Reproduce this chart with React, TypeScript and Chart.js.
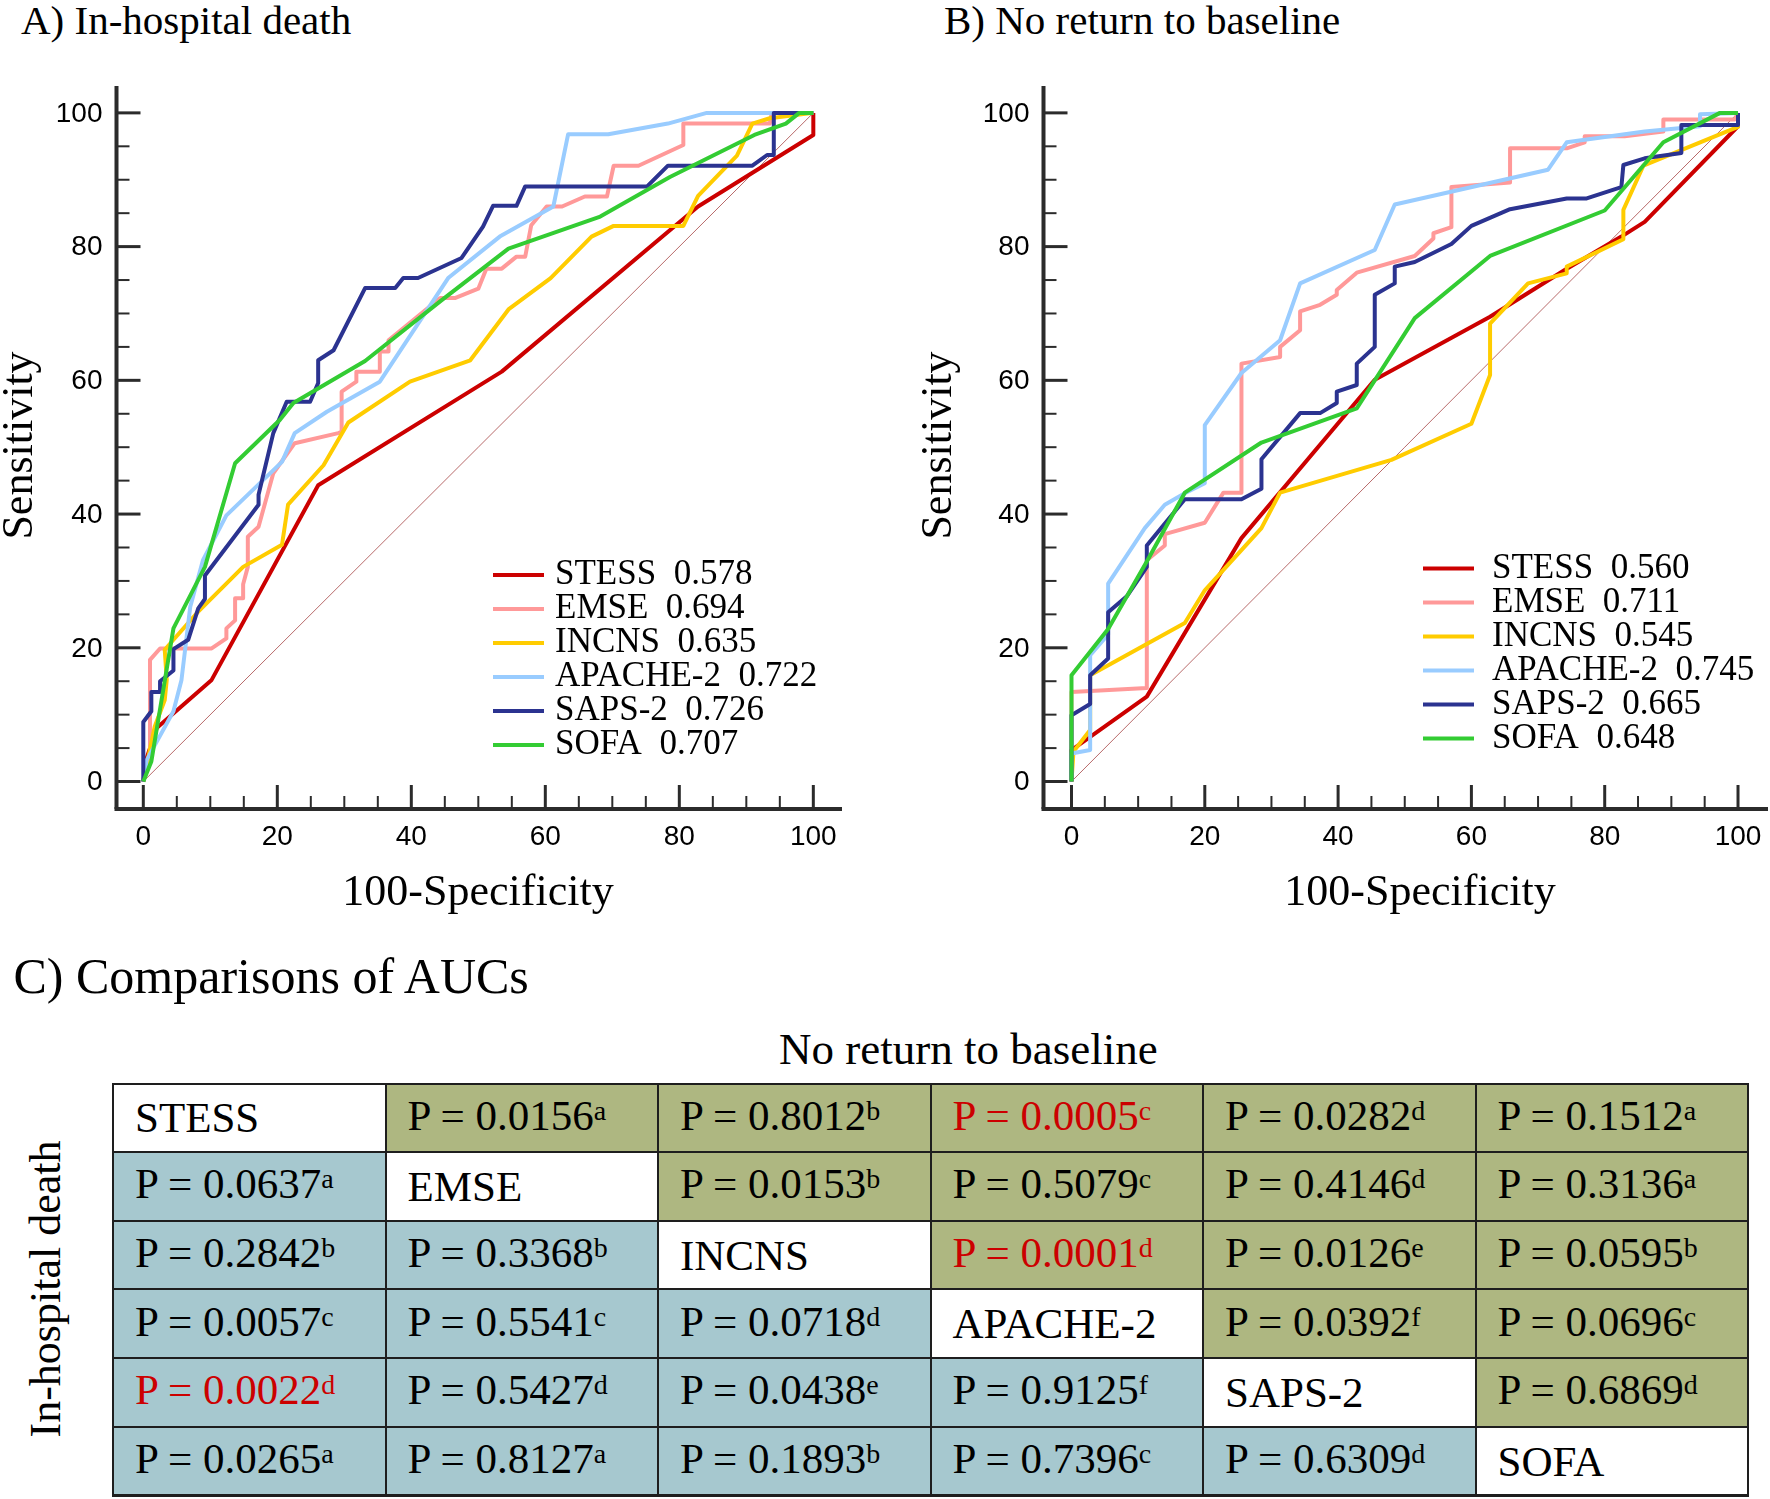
import React, { useEffect, useRef } from "react";
import { Chart, registerables } from "chart.js";

Chart.register(...registerables);

const SERIF = "'Liberation Serif', 'Times New Roman', Times, serif";
const SANS = "'Liberation Sans', Arial, Helvetica, sans-serif";

// ---------------- data ----------------
const scoreNames = ["STESS", "EMSE", "INCNS", "APACHE-2", "SAPS-2", "SOFA"];
const scoreColors = ["#CC0000", "#FF9999", "#FFCC00", "#99CCFF", "#2B3390", "#33CC33"];
const aucDeath = [0.578, 0.694, 0.635, 0.722, 0.726, 0.707];
const aucReturn = [0.56, 0.711, 0.545, 0.745, 0.665, 0.648];
const majorTicks = [0, 20, 40, 60, 80, 100];
const minorTicks = [5, 10, 15, 25, 30, 35, 45, 50, 55, 65, 70, 75, 85, 90, 95];

type Pt = [number, number];

// A) In-hospital death: [100-Specificity, Sensitivity]
const deathStess: Pt[] = [[0, 0], [0.5, 3.5], [2, 8], [10.2, 15.2], [26.1, 44.3], [53.5, 61.3], [82.8, 86.0], [100, 96.7], [100, 100]];
const deathEmse: Pt[] = [[0, 0], [1.0, 4.3], [1.0, 18.2], [2.5, 19.9], [10.2, 19.9], [12.4, 21.4], [12.4, 22.9], [13.7, 24.1], [13.7, 27.4], [14.9, 27.4], [14.9, 29.5], [15.6, 32.1], [15.6, 36.6], [17.2, 38.1], [19.4, 46.1], [22.6, 50.6], [29.1, 52.1], [29.6, 52.3], [29.6, 58.3], [31.8, 59.8], [31.8, 61.3], [35.3, 61.3], [35.3, 64.3], [36.6, 64.3], [36.6, 66.0], [44.3, 72.3], [46.5, 72.3], [50.0, 73.7], [51.2, 76.7], [53.5, 76.7], [55.7, 78.5], [57.0, 78.5], [57.9, 83.2], [60.2, 86.0], [62.5, 86.0], [65.9, 87.5], [69.2, 87.5], [70.2, 92.1], [73.9, 92.1], [80.6, 95.2], [80.6, 98.4], [93.5, 98.4], [93.8, 100], [100, 100]];
const deathIncns: Pt[] = [[0, 0], [1.7, 8.2], [3.2, 12.2], [3.5, 15.2], [3.2, 19.7], [4.5, 21.2], [8.2, 25.4], [14.9, 32.1], [20.7, 35.4], [21.6, 41.4], [26.9, 47.3], [30.6, 53.7], [39.8, 59.8], [48.8, 63.0], [54.5, 70.6], [60.8, 75.3], [66.9, 81.5], [70.2, 83.1], [80.6, 83.1], [82.8, 87.6], [88.6, 93.6], [90.9, 98.4], [93.5, 99.2], [100, 100]];
const deathApache: Pt[] = [[0, 0], [0.5, 3.2], [4.5, 10.5], [5.7, 15.2], [7.0, 26.1], [8.9, 33.1], [12.4, 39.8], [20.7, 47.8], [22.6, 52.1], [27.4, 55.3], [35.3, 59.8], [45.5, 75.3], [53.2, 81.5], [61.2, 86.0], [63.4, 96.8], [69.4, 96.8], [78.3, 98.4], [84.1, 100], [100, 100]];
const deathSaps: Pt[] = [[0, 0], [0, 8.9], [1.2, 10.5], [1.2, 13.4], [2.5, 13.4], [2.5, 15.0], [4.5, 16.6], [4.5, 19.8], [6.7, 21.2], [8.2, 25.9], [9.2, 27.3], [9.2, 30.8], [17.2, 41.4], [17.2, 42.9], [19.4, 52.1], [21.4, 56.8], [24.9, 56.8], [26.1, 59.6], [26.1, 63.0], [28.4, 64.5], [33.1, 73.8], [37.6, 73.8], [38.8, 75.3], [41.0, 75.3], [47.5, 78.3], [50.7, 83.0], [52.2, 86.1], [55.7, 86.1], [57.0, 89.0], [75.2, 89.0], [78.3, 92.1], [90.9, 92.1], [93.1, 93.7], [94.1, 93.7], [94.1, 100], [100, 100]];
const deathSofa: Pt[] = [[0, 0], [1.2, 3.0], [4.5, 22.9], [9.2, 32.1], [13.7, 47.6], [20.4, 54.1], [22.4, 56.6], [33.1, 62.9], [44.3, 71.8], [54.5, 79.7], [68.2, 84.5], [78.6, 90.4], [91.2, 96.7], [95.9, 98.4], [97.9, 100], [100, 100]];

// B) No return to baseline
const returnStess: Pt[] = [[0, 0], [0, 4.7], [11.3, 12.7], [25.5, 36.4], [45.5, 60.1], [62.8, 69.5], [74.0, 76.5], [82.5, 81.5], [86.0, 83.7], [100, 98.0], [100, 100]];
const returnEmse: Pt[] = [[0, 0], [0, 13.4], [11.3, 14.0], [11.3, 33.1], [14.0, 35.3], [14.0, 37.0], [20.0, 38.7], [22.8, 43.2], [25.5, 43.2], [25.5, 62.5], [31.3, 63.5], [31.3, 65.0], [34.3, 67.5], [34.3, 70.3], [37.3, 71.3], [39.8, 72.8], [39.8, 73.5], [42.8, 76.1], [51.5, 78.6], [54.3, 81.2], [54.3, 82.0], [57.0, 82.9], [57.0, 88.9], [65.8, 89.6], [65.8, 94.7], [74.3, 94.7], [77.0, 95.6], [77.0, 96.5], [83.0, 96.5], [88.8, 97.2], [88.8, 99.0], [99.5, 99.0], [100, 100]];
const returnIncns: Pt[] = [[0, 0], [0.3, 4.5], [2.8, 7.7], [2.8, 15.9], [17.0, 23.7], [20.0, 28.6], [28.5, 37.9], [31.3, 43.2], [48.0, 48.1], [60.0, 53.5], [62.8, 60.8], [62.8, 68.5], [68.5, 74.5], [74.3, 76.0], [74.3, 77.0], [82.8, 81.1], [82.8, 85.5], [85.8, 92.1], [100, 97.9], [100, 100]];
const returnApache: Pt[] = [[0, 0], [0, 4.2], [2.8, 4.7], [2.8, 18.9], [5.5, 22.0], [5.5, 29.6], [11.0, 37.9], [14.0, 41.4], [17.0, 43.1], [20.0, 44.6], [20.0, 53.3], [25.5, 61.1], [31.3, 66.0], [34.3, 74.5], [45.5, 79.5], [48.5, 86.3], [71.5, 91.5], [74.3, 95.6], [86.0, 97.2], [94.3, 98.0], [94.3, 99.8], [100, 100]];
const returnSaps: Pt[] = [[0, 0], [0, 9.9], [2.8, 11.6], [2.8, 15.9], [5.5, 18.4], [5.5, 25.3], [8.3, 27.7], [11.3, 32.1], [11.3, 35.3], [17.0, 42.2], [25.5, 42.2], [28.5, 43.8], [28.5, 48.2], [34.3, 55.1], [37.3, 55.1], [39.8, 56.6], [39.8, 58.3], [42.8, 59.3], [42.8, 62.5], [45.5, 65.0], [45.5, 72.8], [48.5, 74.5], [48.5, 77.0], [51.5, 77.7], [57.0, 80.4], [60.0, 83.1], [65.8, 85.6], [74.3, 87.2], [77.3, 87.2], [82.5, 88.9], [82.8, 92.2], [86.0, 93.2], [91.5, 94.0], [91.5, 98.2], [100, 98.2], [100, 100]];
const returnSofa: Pt[] = [[0, 0], [0, 15.9], [5.5, 22.8], [11.3, 32.9], [17.0, 43.2], [28.5, 50.7], [42.8, 55.8], [51.5, 69.3], [62.8, 78.6], [80.0, 85.4], [88.8, 95.6], [97.3, 100], [100, 100]];

const chanceLine: Pt[] = [[0, 0], [100, 100]];

const deathCurves = [deathStess, deathEmse, deathIncns, deathApache, deathSaps, deathSofa];
const returnCurves = [returnStess, returnEmse, returnIncns, returnApache, returnSaps, returnSofa];

// C) table: upper triangle = No return to baseline, lower triangle = In-hospital death (row-major)
const returnPValues = ["0.0156a", "0.8012b", "0.0005c", "0.0282d", "0.1512a", "0.0153b", "0.5079c", "0.4146d", "0.3136a", "0.0001d", "0.0126e", "0.0595b", "0.0392f", "0.0696c", "0.6869d"];
const deathPValues = ["0.0637a", "0.2842b", "0.3368b", "0.0057c", "0.5541c", "0.0718d", "0.0022d", "0.5427d", "0.0438e", "0.9125f", "0.0265a", "0.8127a", "0.1893b", "0.7396c", "0.6309d"];
const highlightedPValues = ["0.0005c", "0.0001d", "0.0022d"];

// ---------------- styles / layout ----------------
const OLIVE = "#AEB781";
const TEAL = "#A6C8CF";
const RED_TEXT = "#CC0000";
const AXIS = "#2b2b2b";

interface PanelLayout {
  left: number;
  padding: { left: number; top: number; right: number; bottom: number };
  xRange: [number, number];
  yRange: [number, number];
  legendLineX: number;
  legendTextX: number;
  legendY: number;
  xTitleX: number;
  yTitleX: number;
}

const layoutA: PanelLayout = {
  left: 0,
  padding: { left: 116.5, top: 86, right: 43, bottom: 121 },
  xRange: [-4.0, 104.28],
  yRange: [-4.11, 104.02],
  legendLineX: 493,
  legendTextX: 555,
  legendY: 575,
  xTitleX: 478,
  yTitleX: 32,
};

const layoutB: PanelLayout = {
  left: 885,
  padding: { left: 158.5, top: 86, right: 2, bottom: 121 },
  xRange: [-4.2, 104.5],
  yRange: [-4.11, 104.02],
  legendLineX: 538,
  legendTextX: 607,
  legendY: 568.5,
  xTitleX: 535,
  yTitleX: 66,
};

const CANVAS_W = 885;
const CANVAS_H = 930;

function RocChart({ curves, aucs, layout }: { curves: Pt[][]; aucs: number[]; layout: PanelLayout }) {
  const ref = useRef<HTMLCanvasElement | null>(null);

  useEffect(() => {
    const canvas = ref.current;
    if (!canvas) return;

    const datasets: any[] = curves.map((c, i) => ({
      label: `${scoreNames[i]}  ${aucs[i].toFixed(3)}`,
      data: c.map(([x, y]) => ({ x, y })),
      borderColor: scoreColors[i],
      backgroundColor: scoreColors[i],
      borderWidth: 4,
      borderJoinStyle: "round",
      pointRadius: 0,
      showLine: true,
      fill: false,
      tension: 0,
      order: 6 - i,
    }));
    datasets.push({
      label: "reference",
      data: chanceLine.map(([x, y]) => ({ x, y })),
      borderColor: "#B86A6A",
      borderWidth: 1,
      pointRadius: 0,
      showLine: true,
      fill: false,
      order: 20,
    });

    const axesPlugin = {
      id: "rocAxes",
      beforeDatasetsDraw(chart: any) {
        const { ctx, chartArea: a, scales } = chart;
        const xs = scales.x;
        const ys = scales.y;
        ctx.save();
        ctx.strokeStyle = AXIS;
        ctx.lineCap = "butt";
        ctx.lineWidth = 4;
        ctx.beginPath();
        ctx.moveTo(a.left - 2, a.bottom);
        ctx.lineTo(a.right, a.bottom);
        ctx.stroke();
        ctx.beginPath();
        ctx.moveTo(a.left, a.bottom);
        ctx.lineTo(a.left, a.top);
        ctx.stroke();
        const drawTick = (v: number, major: boolean) => {
          const len = major ? 24 : 13;
          ctx.lineWidth = major ? 3 : 2;
          const px = xs.getPixelForValue(v);
          ctx.beginPath();
          ctx.moveTo(px, a.bottom);
          ctx.lineTo(px, a.bottom - len);
          ctx.stroke();
          const py = ys.getPixelForValue(v);
          ctx.beginPath();
          ctx.moveTo(a.left, py);
          ctx.lineTo(a.left + len, py);
          ctx.stroke();
        };
        minorTicks.forEach((v) => drawTick(v, false));
        majorTicks.forEach((v) => drawTick(v, true));
        ctx.fillStyle = "#000";
        ctx.font = `28px ${SANS}`;
        ctx.textAlign = "center";
        ctx.textBaseline = "alphabetic";
        majorTicks.forEach((v) => ctx.fillText(String(v), xs.getPixelForValue(v), a.bottom + 36));
        ctx.textAlign = "right";
        ctx.textBaseline = "middle";
        majorTicks.forEach((v) => ctx.fillText(String(v), a.left - 14, ys.getPixelForValue(v) + 1));
        ctx.restore();
      },
      afterDraw(chart: any) {
        const { ctx, chartArea: a } = chart;
        ctx.save();
        ctx.fillStyle = "#000";
        ctx.font = `44px ${SERIF}`;
        ctx.textAlign = "center";
        ctx.textBaseline = "alphabetic";
        ctx.fillText("100-Specificity", layout.xTitleX, 905);
        ctx.save();
        ctx.translate(layout.yTitleX, (a.top + a.bottom) / 2 - 2);
        ctx.rotate(-Math.PI / 2);
        ctx.fillText("Sensitivity", 0, 0);
        ctx.restore();
        chart.data.datasets.forEach((ds: any, i: number) => {
          if (i >= curves.length) return;
          const yy = layout.legendY + i * 34;
          ctx.strokeStyle = ds.borderColor;
          ctx.lineWidth = 4;
          ctx.beginPath();
          ctx.moveTo(layout.legendLineX, yy);
          ctx.lineTo(layout.legendLineX + 51, yy);
          ctx.stroke();
          ctx.fillStyle = "#000";
          ctx.font = `35px ${SERIF}`;
          ctx.textAlign = "left";
          ctx.textBaseline = "alphabetic";
          ctx.fillText(ds.label, layout.legendTextX, yy + 9);
        });
        ctx.restore();
      },
    };

    const chart = new Chart(canvas, {
      type: "scatter",
      data: { datasets },
      options: {
        animation: false,
        responsive: false,
        maintainAspectRatio: false,
        devicePixelRatio: 1,
        events: [],
        layout: { padding: layout.padding },
        plugins: { legend: { display: false }, tooltip: { enabled: false } },
        scales: {
          x: { type: "linear", min: layout.xRange[0], max: layout.xRange[1], display: false },
          y: { type: "linear", min: layout.yRange[0], max: layout.yRange[1], display: false },
        },
      } as any,
      plugins: [axesPlugin],
    });
    return () => chart.destroy();
  }, [curves, aucs, layout]);

  return (
    <canvas
      ref={ref}
      width={CANVAS_W}
      height={CANVAS_H}
      style={{ position: "absolute", left: layout.left, top: 0, width: CANVAS_W, height: CANVAS_H, display: "block" }}
    />
  );
}

function PlainText({ x, baseline, size, children }: { x: number; baseline: number; size: number; children: React.ReactNode }) {
  return (
    <div
      style={{
        position: "absolute",
        left: x,
        top: baseline - 0.8375 * size,
        fontSize: size,
        lineHeight: `${size}px`,
        fontFamily: SERIF,
        whiteSpace: "nowrap",
        color: "#000",
      }}
    >
      {children}
    </div>
  );
}

function RotatedText({ cx, cy, size, children }: { cx: number; cy: number; size: number; children: React.ReactNode }) {
  return (
    <div
      style={{
        position: "absolute",
        left: cx - 250,
        top: cy - size / 2,
        width: 500,
        height: size,
        fontSize: size,
        lineHeight: `${size}px`,
        fontFamily: SERIF,
        textAlign: "center",
        whiteSpace: "nowrap",
        transform: "rotate(-90deg)",
        color: "#000",
      }}
    >
      {children}
    </div>
  );
}

function AucTable() {
  const cells: React.ReactNode[] = [];
  let ui = 0;
  let li = 0;
  for (let r = 0; r < scoreNames.length; r++) {
    for (let c = 0; c < scoreNames.length; c++) {
      let bg = "#fff";
      let content: React.ReactNode;
      let color = "#000";
      if (r === c) {
        content = scoreNames[r];
      } else {
        const raw = c > r ? returnPValues[ui++] : deathPValues[li++];
        bg = c > r ? OLIVE : TEAL;
        if (highlightedPValues.includes(raw)) color = RED_TEXT;
        const value = raw.slice(0, -1);
        const sup = raw.slice(-1);
        content = (
          <span>
            {`P = ${value}`}
            <span style={{ fontSize: 28, position: "relative", top: -10 }}>{sup}</span>
          </span>
        );
      }
      cells.push(
        <div
          key={`${r}-${c}`}
          style={{
            background: bg,
            color,
            display: "flex",
            alignItems: "center",
            paddingLeft: 21,
            fontSize: 43,
            lineHeight: "43px",
            fontFamily: SERIF,
            whiteSpace: "nowrap",
            overflow: "hidden",
          }}
        >
          {content}
        </div>
      );
    }
  }
  return (
    <div
      style={{
        position: "absolute",
        left: 112,
        top: 1082.5,
        width: 1637,
        height: 414,
        boxSizing: "border-box",
        padding: 2,
        background: "#1e1e1e",
        display: "grid",
        gridTemplateColumns: "repeat(6, 1fr)",
        gridTemplateRows: "repeat(6, 1fr)",
        gap: 2,
      }}
    >
      {cells}
    </div>
  );
}

export default function App() {
  return (
    <div
      style={{
        position: "absolute",
        left: 0,
        top: 0,
        width: 1770,
        height: 1499,
        background: "#fff",
        overflow: "hidden",
      }}
    >
      <PlainText x={21} baseline={34.5} size={41}>A) In-hospital death</PlainText>
      <PlainText x={944} baseline={34.5} size={41}>B) No return to baseline</PlainText>
      <RocChart curves={deathCurves} aucs={aucDeath} layout={layoutA} />
      <RocChart curves={returnCurves} aucs={aucReturn} layout={layoutB} />
      <PlainText x={13.5} baseline={993} size={50}>C) Comparisons of AUCs</PlainText>
      <PlainText x={779} baseline={1065} size={45}>No return to baseline</PlainText>
      <RotatedText cx={46} cy={1288.5} size={44}>In-hospital death</RotatedText>
      <AucTable />
    </div>
  );
}
